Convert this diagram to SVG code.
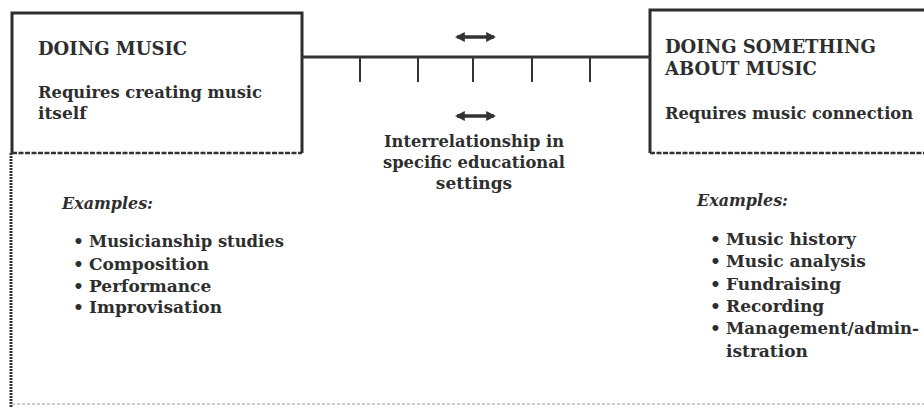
<svg xmlns="http://www.w3.org/2000/svg" width="924" height="408" viewBox="0 0 924 408">
<style>
.t{font-family:"DejaVu Serif","Liberation Serif",serif;font-weight:bold;fill:#2e2e2e}
.h{font-size:18px}
.b{font-size:17px}
.i{font-style:italic;font-size:17px}
.box{stroke:#2e2e2e;stroke-width:3;fill:none}
.dash{stroke:#333;stroke-width:2.5;stroke-dasharray:5 1.5;fill:none}
.dot{stroke:#333;stroke-width:3;stroke-dasharray:2 1;fill:none}
.faint{stroke:#bbb;stroke-width:1.5;stroke-dasharray:3 2;fill:none}
.ln{stroke:#333;stroke-width:3;fill:none}
.tk{stroke:#333;stroke-width:2;fill:none}
.arr{stroke:#333;stroke-width:3.5;fill:none;marker-start:url(#ah);marker-end:url(#ah)}
</style>
<defs>
<marker id="ah" viewBox="0 0 10 10" refX="8" refY="5" markerWidth="2.8" markerHeight="2.8" orient="auto-start-reverse">
<path d="M0,0 L10,5 L0,10 Z" fill="#333"/>
</marker>
</defs>
<g id="doing-music">
<path class="box" d="M12,153 L12,13 L302,13 L302,153"/>
<line class="dash" x1="12" y1="153" x2="302" y2="153"/>
<line class="dot" x1="11" y1="153" x2="11" y2="408"/>
<text class="t h" x="38" y="55">DOING MUSIC</text>
<text class="t b" x="38" y="98" textLength="224" lengthAdjust="spacingAndGlyphs">Requires creating music</text>
<text class="t b" x="38" y="119">itself</text>
<text class="t i" x="62" y="209" textLength="91" lengthAdjust="spacingAndGlyphs">Examples:</text>
<text class="t b" x="73" y="247">•</text>
<text class="t b" x="89" y="247" textLength="195" lengthAdjust="spacingAndGlyphs">Musicianship studies</text>
<text class="t b" x="73" y="270">•</text>
<text class="t b" x="89" y="270">Composition</text>
<text class="t b" x="73" y="292">•</text>
<text class="t b" x="89" y="292">Performance</text>
<text class="t b" x="73" y="313">•</text>
<text class="t b" x="89" y="313">Improvisation</text>
</g>
<g id="doing-about">
<path class="box" d="M650,153 L650,10 L924,10"/>
<line class="dash" x1="650" y1="153" x2="924" y2="153"/>
<text class="t h" x="665" y="53">DOING SOMETHING</text>
<text class="t h" x="665" y="75">ABOUT MUSIC</text>
<text class="t b" x="665" y="119" textLength="248" lengthAdjust="spacingAndGlyphs">Requires music connection</text>
<text class="t i" x="697" y="206" textLength="91" lengthAdjust="spacingAndGlyphs">Examples:</text>
<text class="t b" x="710" y="245">•</text>
<text class="t b" x="726" y="245">Music history</text>
<text class="t b" x="710" y="267">•</text>
<text class="t b" x="726" y="267">Music analysis</text>
<text class="t b" x="710" y="290">•</text>
<text class="t b" x="726" y="290">Fundraising</text>
<text class="t b" x="710" y="312">•</text>
<text class="t b" x="726" y="312">Recording</text>
<text class="t b" x="710" y="334">•</text>
<text class="t b" x="726" y="334" textLength="193" lengthAdjust="spacingAndGlyphs">Management/admin-</text>
<text class="t b" x="726" y="357">istration</text>
</g>
<g id="interrelationship">
<text class="t b" x="474" y="147" text-anchor="middle" textLength="180" lengthAdjust="spacingAndGlyphs">Interrelationship in</text>
<text class="t b" x="474" y="168" text-anchor="middle" textLength="182" lengthAdjust="spacingAndGlyphs">specific educational</text>
<text class="t b" x="474" y="189" text-anchor="middle">settings</text>
</g>
<g id="connectors">
<line class="ln" x1="302" y1="57" x2="650" y2="57"/>
<line class="tk" x1="360" y1="57" x2="360" y2="82"/>
<line class="tk" x1="418" y1="57" x2="418" y2="82"/>
<line class="tk" x1="473" y1="57" x2="473" y2="82"/>
<line class="tk" x1="532" y1="57" x2="532" y2="82"/>
<line class="tk" x1="590" y1="57" x2="590" y2="82"/>
<line class="arr" x1="457" y1="37" x2="494" y2="37"/>
<line class="arr" x1="457" y1="116" x2="494" y2="116"/>
<line class="faint" x1="12" y1="404" x2="924" y2="404"/>
</g>
</svg>
